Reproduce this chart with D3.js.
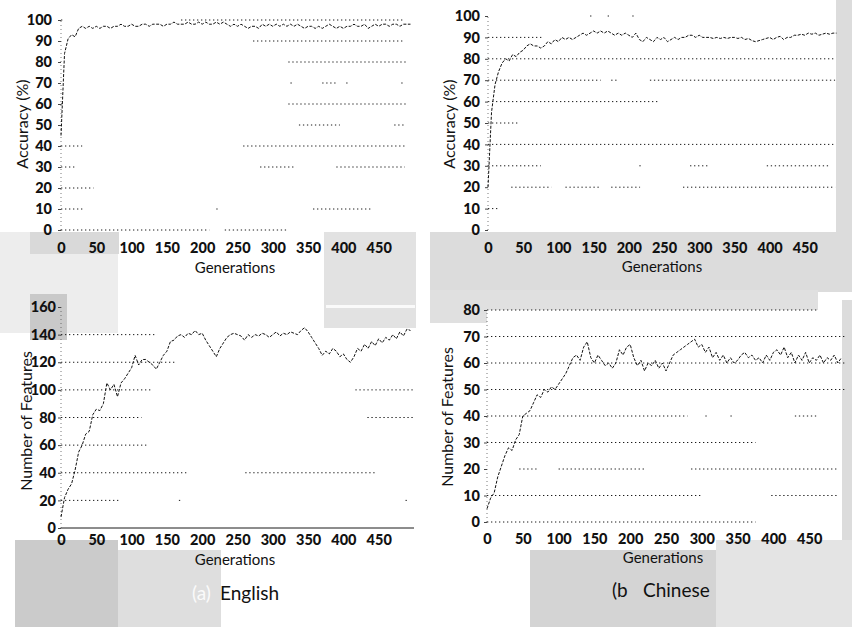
<!DOCTYPE html>
<html><head><meta charset="utf-8">
<script src="https://cdn.jsdelivr.net/npm/d3@7"></script>
<style>
body{margin:0;background:#fff;}
svg{display:block;}
.tick text{font-family:Lato,"Open Sans",sans-serif;font-weight:900;font-size:14.5px;fill:#111;}
.title{font-family:Lato,"Open Sans",sans-serif;font-size:15px;fill:#111;}
.ytitle{font-family:Lato,"Open Sans",sans-serif;font-size:16px;fill:#111;}
.cap{font-family:Lato,"Open Sans",sans-serif;font-size:19px;fill:#111;}
</style></head>
<body><svg id="c" width="852" height="627"></svg>
<script>
// ---------- data ----------
const generations = d3.range(0, 500, 5);
const xTicks = [0,50,100,150,200,250,300,350,400,450];
const accTicks = [0,10,20,30,40,50,60,70,80,90,100];
const featEnTicks = [0,20,40,60,80,100,120,140,160];
const featZhTicks = [0,10,20,30,40,50,60,70,80];

const accEnglish = [45,84,91,93,92,96,97,96,97,96,97,96,97,97,96,97,97,98,97,97,98,97,97,98,98,97,98,98,98,97,98,98,99,98,98,98,99,98,98,99,98,99,98,98,99,98,99,98,97,98,97,98,97,96,97,97,96,98,97,98,97,98,97,98,97,98,97,98,97,96,97,97,96,97,96,97,98,97,96,97,96,97,97,98,97,97,98,96,97,98,97,98,98,97,98,98,97,98,98,98];
const accChinese = [20,55,68,74,78,80,79,82,81,83,84,86,87,86,86,85,86,88,87,89,88,90,89,90,89,90,91,92,91,92,93,92,93,92,93,92,91,92,91,92,91,90,92,89,88,90,89,88,90,89,90,88,89,90,89,90,90,91,91,90,91,90,90,90,89.5,90,89.5,90,89.5,90,90,89.5,90,89,89.5,88.5,88,88.5,89,89.5,90,89,90,90.5,89,90,90,91,91,91.5,91,92,91.5,92,91,91.5,92,91.5,92,92];
const featEnglish = [8,22,28,32,42,55,60,68,70,82,86,85,90,105,100,104,95,105,108,112,116,125,118,122,122,120,118,115,120,125,128,135,136,139,140,138,141,140,143,140,141,136,132,128,124,130,134,138,140,141,140,139,136,140,138,140,139,141,140,138,140,142,139,141,140,142,141,140,143,145,142,138,134,130,125,128,126,130,128,124,126,122,120,124,130,128,133,130,135,132,137,134,138,136,140,137,142,139,144,143];
const featChinese = [5,9,11,17,21,25,28,27,31,33,40,41,42,45,48,47,50,49,51,50,52,54,56,59,62,63,61,66,68,62,60,63,61,59,60,58,60,65,63,66,67,62,59,61,57,60,59,61,58,60,57,60,63,64,65,66,67,68,69,66,67,64,66,62,64,61,63,60,62,60,61,63,64,62,63,61,62,60,63,61,64,65,63,66,62,64,60,63,61,64,60,62,61,63,60,62,61,63,60,62];

// population points sitting on value levels: [level, fromGeneration, toGeneration]
const levelsAccEn = [[100,170,487],[100,0,4],[90,272,484],[80,322,490],[70,325,327],[70,370,392],[70,404,406],[70,482,484],[60,322,490],[60,0,3],[50,337,395],[50,472,487],[40,0,30],[40,258,490],[30,0,20],[30,282,333],[30,390,487],[20,0,46],[10,0,33],[10,220,222],[10,357,440],[0,0,210],[0,232,320]];
const levelsAccZh = [[100,145,150],[100,170,175],[100,205,210],[90,0,77],[80,0,493],[70,0,160],[70,175,185],[70,230,493],[60,0,242],[50,0,45],[40,0,493],[30,0,75],[30,215,217],[30,287,315],[30,396,486],[20,33,90],[20,110,160],[20,175,216],[20,277,493],[10,0,17]];
const levelsFeatEn = [[140,0,136],[120,0,164],[100,0,128],[100,417,500],[80,0,114],[80,434,500],[60,0,121],[40,0,180],[40,261,446],[20,0,84],[20,167,169],[20,488,490],[0,0,500]];
const levelsFeatZh = [[80,0,460],[70,0,500],[60,0,500],[50,0,500],[40,0,280],[40,305,310],[40,340,345],[40,430,462],[30,0,375],[20,45,70],[20,100,220],[20,285,490],[10,0,300],[10,397,490],[0,0,375]];

// ---------- scan background patches (decoration) ----------
const patches = [
 {x:0,y:232,w:118,h:101,c:"#ededed"},
 {x:30,y:232,w:89,h:22,c:"#d9d9d9"},
 {x:324,y:232,w:92,h:96,c:"#e2e2e2"},
 {x:30,y:294,w:37,h:46,c:"#c9c9c9"},
 {x:15,y:540,w:103,h:87,c:"#cbcbcb"},
 {x:118,y:550,w:103,h:77,c:"#dedede"},
 {x:430,y:232,w:422,h:60,c:"#dcdcdc"},
 {x:836,y:0,w:16,h:292,c:"#dcdcdc"},
 {x:430,y:290,w:388,h:33,c:"#e0e0e0"},
 {x:842,y:300,w:10,h:245,c:"#dcdcdc"},
 {x:530,y:550,w:186,h:77,c:"#d4d4d4"},
 {x:716,y:540,w:136,h:87,c:"#e4e4e4"}
];

const svg = d3.select("#c");
svg.append("g").selectAll("rect").data(patches).join("rect")
  .attr("x",d=>d.x).attr("y",d=>d.y).attr("width",d=>d.w).attr("height",d=>d.h).attr("fill",d=>d.c);
svg.append("rect").attr("x",326).attr("y",305).attr("width",89).attr("height",3).attr("fill","#fafafa");
svg.append("rect").attr("x",487).attr("y",310).attr("width",331).attr("height",13).attr("fill","#ffffff");

function panel(cfg){
  const x = d3.scaleLinear().domain([0,500]).range(cfg.xr);
  const y = d3.scaleLinear().domain(cfg.yd).range(cfg.yr);
  const g = svg.append("g");
  g.append("g").selectAll("line").data(cfg.levels).join("line")
    .attr("x1",d=>x(d[1])).attr("x2",d=>x(d[2]))
    .attr("y1",d=>y(d[0])).attr("y2",d=>y(d[0]))
    .attr("stroke","#1a1a1a").attr("stroke-width",1)
    .attr("stroke-dasharray",d=>(cfg.solidZero && d[0]===0) ? null : "1.3,2.7");
  g.append("line").attr("x1",x(0)).attr("x2",x(0)).attr("y1",y(cfg.yd[0])).attr("y2",y(cfg.yd[1]))
    .attr("stroke","#555").attr("stroke-width",0.8).attr("stroke-dasharray","1,3");
  const line = d3.line().x((d,i)=>x(generations[i])).y(d=>y(d));
  g.append("path").datum(cfg.values).attr("d",line).attr("fill","none")
    .attr("stroke","#111").attr("stroke-width",1).attr("stroke-dasharray","3,1.5");
  const ya = d3.axisLeft(y).tickValues(cfg.yTicks).tickSize(3).tickPadding(cfg.yPad);
  const yg = g.append("g").attr("transform",`translate(${x(0)},0)`).call(ya);
  yg.select(".domain").remove();
  yg.selectAll(".tick line").attr("stroke","#444");
  const xa = d3.axisBottom(x).tickValues(xTicks).tickSize(0).tickPadding(0);
  const xg = g.append("g").attr("transform",`translate(0,${cfg.xLabelY})`).call(xa);
  xg.select(".domain").remove();
  xg.selectAll(".tick text").attr("dy","0.35em");
  g.append("text").attr("class","title").attr("text-anchor","middle")
    .attr("x",cfg.xTitle[0]).attr("y",cfg.xTitle[1]).text("Generations");
  g.append("text").attr("class","ytitle").attr("text-anchor","middle")
    .attr("transform",`translate(${cfg.yTitle[0]},${cfg.yTitle[1]}) rotate(-90)`).text(cfg.yLabel);
}

panel({xr:[61,414],yd:[0,100],yr:[230,20],yTicks:accTicks,yPad:6,values:accEnglish,levels:levelsAccEn,
  xLabelY:248,xTitle:[235,273],yTitle:[28,124],yLabel:"Accuracy (%)"});
panel({xr:[488,840],yd:[0,100],yr:[230,16],yTicks:accTicks,yPad:5,values:accChinese,levels:levelsAccZh,
  xLabelY:248,xTitle:[662,272],yTitle:[455,124],yLabel:"Accuracy (%)"});
panel({xr:[61,414],yd:[0,160],yr:[528,307],yTicks:featEnTicks,yPad:2,values:featEnglish,levels:levelsFeatEn,solidZero:true,
  xLabelY:540,xTitle:[235,565],yTitle:[32,421],yLabel:"Number of Features"});
panel({xr:[487,845],yd:[0,80],yr:[522,310],yTicks:featZhTicks,yPad:4,values:featChinese,levels:levelsFeatZh,
  xLabelY:539,xTitle:[663,563],yTitle:[453,417],yLabel:"Number of Features"});

svg.append("text").attr("class","cap").attr("x",192).attr("y",600).style("fill","#fafafa").text("(a)");
svg.append("text").attr("class","cap").attr("x",220).attr("y",600).text("English");
svg.append("text").attr("class","cap").attr("x",612).attr("y",597).text("(b");
svg.append("text").attr("class","cap").attr("x",643).attr("y",597).text("Chinese");
</script></body></html>
